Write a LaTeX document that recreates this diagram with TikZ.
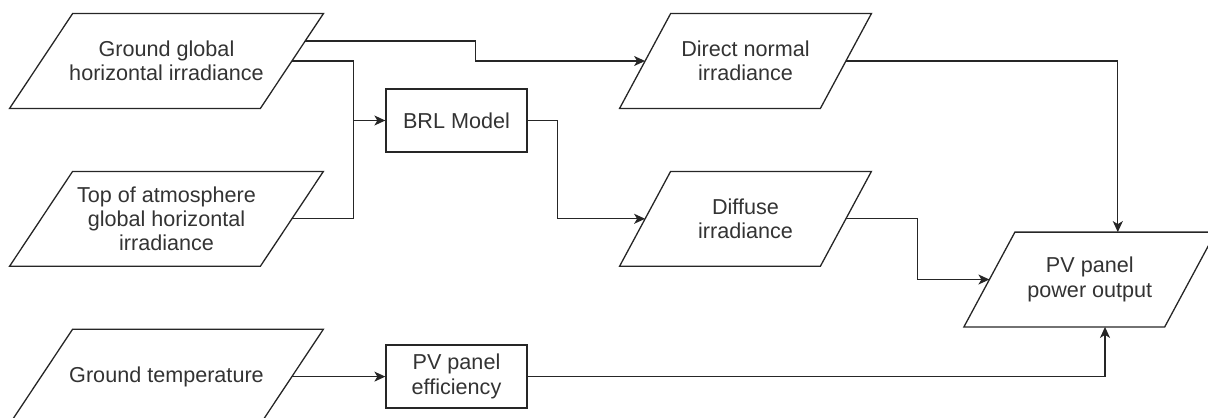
\documentclass[tikz,border=0pt]{standalone}
\usepackage{fontspec}
\setmainfont{Liberation Sans}
\usetikzlibrary{positioning}
\usetikzlibrary{arrows.meta}
\usetikzlibrary{calc}

\begin{document}
\begin{tikzpicture}[
>={Stealth[length=5.5pt,width=5pt,inset=1.5pt]},
line/.style={draw=black!85, line width=0.65pt},
datanode1/.style={rectangle, minimum width=125pt, minimum height=47pt, align=center, inner sep=2pt, font=\fontsize{10.8}{12.2}\selectfont, text=black!80},
datanode2/.style={datanode1, minimum width=100pt},
processnode/.style={rectangle, line, minimum width=70.5pt, minimum height=31.5pt, align=center, inner sep=2pt, font=\fontsize{10.8}{12.2}\selectfont, text=black!80},
node distance=31.5pt
]
\useasboundingbox (0,0) rectangle (604pt,-208.5pt);

%Nodes
\node[datanode1]      (ggh)  at (83.25pt,-30.5pt)   {Ground global\\horizontal irradiance};
\node[datanode1]      (toa)  [below=of ggh]         {Top of atmosphere\\global horizontal\\irradiance};
\node[datanode1]      (gtp)  [below=of toa]         {Ground temperature};
\node[processnode]    (brl)  at (228.25pt,-60.25pt) {BRL Model};
\node[processnode]    (eff)  at (brl |- gtp)        {PV panel\\efficiency};
\node[datanode2]      (dni)  at (372.75pt,-30.5pt)  {Direct normal\\irradiance};
\node[datanode2]      (dif)  [below=of dni]         {Diffuse\\irradiance};
\node[datanode2]      (pvo)  at (544.9pt,-139.75pt) {PV panel\\power output};

%Slanted frames
\foreach \n/\s in {ggh/15.75pt, toa/15.75pt, gtp/15.75pt, dni/12.75pt, dif/12.75pt, pvo/12.75pt}
  \draw[line] ([xshift=\s]\n.north west) -- ([xshift=\s]\n.north east) -- ([xshift=-\s]\n.south east) -- ([xshift=-\s]\n.south west) -- cycle;

%Points
\coordinate (gghout) at ([shift={(6.75pt,10pt)}]ggh.east);
\coordinate (join)   at ([xshift=-16pt]brl.west);
\coordinate (pvotop) at ([xshift=14pt]pvo.north);
\coordinate (pvobot) at ([xshift=7.6pt]pvo.south);

%Lines
\draw[line, ->] (gghout) -| ($(gghout)!0.5!(dni.west)$) |- (dni.west);
\draw[line] (ggh.east) -| (join);
\draw[line] (toa.east) -| (join);
\draw[line, ->] (join) -- (brl.west);
\draw[line, ->] (brl.east) -- ++(15pt,0) |- (dif.west);
\draw[line, ->] (dni.east) -| (pvotop);
\draw[line, ->] (dif.east) -| ($(dif.east)!0.5!(pvo.west)$) |- (pvo.west);
\draw[line, ->] (gtp.east) -- (eff.west);
\draw[line, ->] (eff.east) -| (pvobot);
\end{tikzpicture}
\end{document}
